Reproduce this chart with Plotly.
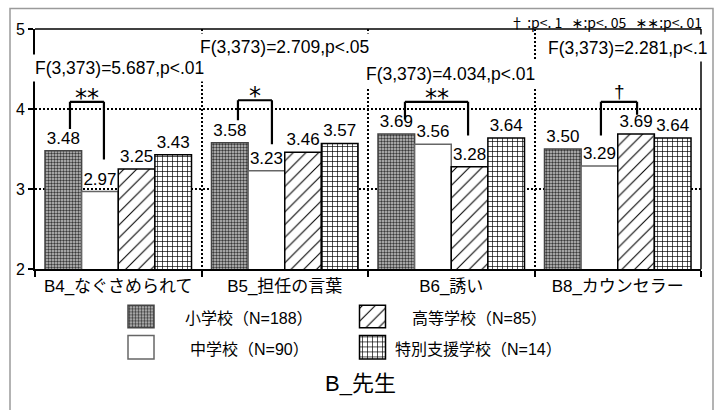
import plotly.graph_objects as go

categories = ["B4_なぐさめられて", "B5_担任の言葉", "B6_誘い", "B8_カウンセラー"]
series_names = ["小学校（N=188）", "中学校（N=90）", "高等学校（N=85）", "特別支援学校（N=14）"]
values = [
    [3.48, 3.58, 3.69, 3.50],   # 小学校
    [2.97, 3.23, 3.56, 3.29],   # 中学校
    [3.25, 3.46, 3.28, 3.69],   # 高等学校
    [3.43, 3.57, 3.64, 3.64],   # 特別支援学校
]
f_texts = ["F(3,373)=5.687,p<.01", "F(3,373)=2.709,p<.05",
           "F(3,373)=4.034,p<.01", "F(3,373)=2.281,p<.1"]
sig_marks = ["**", "*", "**", "†"]
# bracket: (x left, x right) in category units, top, left leg end, right leg end
brackets = [
    (-0.290, -0.086, 4.09, 3.75, 3.37),
    (0.719, 0.923, 4.11, 3.86, 3.56),
    (1.722, 2.101, 4.09, 3.87, 3.67),
    (2.899, 3.116, 4.09, 3.67, 3.93),
]
note_text = "† :p<. 1   ∗:p<. 05   ∗∗:p<. 01"
title_text = "B_先生"

FONT = "Liberation Sans, Arial, Noto Sans CJK JP"
JFONT = "Liberation Sans, Noto Sans CJK JP"

W, H = 719, 410
ML, MR, MT, MB = 35, 18, 29, 0
PW, PH = W - ML - MR, H - MT - MB


def pxx(px):
    return (px - ML) / PW


def pxy(py):
    return (H - MB - py) / PH


styles = [
    dict(pattern=dict(shape=".", fgcolor="#3a3a3a", bgcolor="#c8c8c8", size=3, solidity=0.5, fillmode="replace"),
         line=dict(color="#444444", width=1.5)),
    dict(pattern=dict(shape="", fgcolor="#ffffff", bgcolor="#ffffff"), color="#ffffff",
         line=dict(color="#666666", width=1.5)),
    dict(pattern=dict(shape="/", fgcolor="#000000", bgcolor="#ffffff", size=9, solidity=0.12, fillmode="replace"),
         line=dict(color="#000000", width=1.5)),
    dict(pattern=dict(shape="+", fgcolor="#000000", bgcolor="#ffffff", size=5, solidity=0.25, fillmode="replace"),
         line=dict(color="#000000", width=1.5)),
]

fig = go.Figure()
for i, name in enumerate(series_names):
    st = styles[i]
    marker = dict(pattern=st["pattern"], line=st["line"], color=st.get("color", "#ffffff"))
    fig.add_trace(go.Bar(
        x=categories, y=values[i], name=name, marker=marker,
        text=[f"{v:.2f}" for v in values[i]], textposition="outside",
        textfont=dict(family=FONT, size=17, color="#000000"),
        constraintext="none", cliponaxis=False, showlegend=False,
    ))

# legend swatches drawn on a hidden helper axis (pixel units)
leg_x = [141, 141, 372.5, 372.5]
leg_top = [312, 343, 312, 343]
leg_bot = [335, 367, 335, 367]
leg_text_x = [183, 188, 410, 393]
for i, name in enumerate(series_names):
    st = styles[i]
    marker = dict(pattern=st["pattern"], line=st["line"], color=st.get("color", "#ffffff"))
    fig.add_trace(go.Bar(
        x=[leg_x[i]], y=[leg_top[i] - leg_bot[i]], base=[leg_bot[i]],
        width=26, offset=-13, marker=marker, xaxis="x2", yaxis="y2",
        showlegend=False, hoverinfo="skip",
    ))

annotations = []
shapes = []

# F statistics
f_pos = [(31, 69), (196, 47), (362, 75), (544, 48)]
for t, (lx, cy) in zip(f_texts, f_pos):
    annotations.append(dict(text=t, xref="paper", yref="paper", x=pxx(lx), y=pxy(cy),
                            xanchor="left", yanchor="middle", showarrow=False,
                            bgcolor="#ffffff", borderpad=3,
                            font=dict(family=FONT, size=17.5, color="#000000")))

# brackets + significance marks
for (x0, x1, top, l0, l1), m in zip(brackets, sig_marks):
    for (a, b, c, d) in [(x0, l0, x0, top), (x0, top, x1, top), (x1, top, x1, l1)]:
        shapes.append(dict(type="line", xref="x", yref="y", x0=a, y0=b, x1=c, y1=d,
                           line=dict(color="#000000", width=2.2)))
    if m == "†":
        annotations.append(dict(text=m, xref="x", yref="y", x=(x0 + x1) / 2, y=top,
                                yanchor="bottom", yshift=-2, showarrow=False,
                                font=dict(family=FONT, size=19, color="#000000")))
    else:
        annotations.append(dict(text=m, xref="x", yref="y", x=(x0 + x1) / 2, y=top,
                                yanchor="bottom", yshift=-12, showarrow=False,
                                font=dict(family="DejaVu Sans", size=24, color="#000000")))

# note (top-right)
annotations.append(dict(text=note_text, xref="paper", yref="paper", x=pxx(704), y=pxy(22),
                        xanchor="right", yanchor="middle", showarrow=False,
                        font=dict(family="Noto Sans CJK JP, DejaVu Sans", size=14, color="#000000")))

# legend labels
leg_cy = [325, 357, 325, 357]
for i, name in enumerate(series_names):
    annotations.append(dict(text=name, xref="paper", yref="paper", x=pxx(leg_text_x[i]), y=pxy(leg_cy[i]),
                            xanchor="left", yanchor="middle", showarrow=False,
                            font=dict(family=JFONT, size=16, color="#000000")))

# title
annotations.append(dict(text=title_text, xref="paper", yref="paper", x=pxx(360), y=pxy(392),
                        xanchor="center", yanchor="middle", showarrow=False,
                        font=dict(family=JFONT, size=22, color="#000000")))

# frame top / right
shapes.append(dict(type="line", xref="paper", yref="paper", x0=0, x1=1, y0=1, y1=1,
                   line=dict(color="#000000", width=1.5), layer="above"))
shapes.append(dict(type="line", xref="paper", yref="paper", x0=1, x1=1, y0=pxy(275), y1=1,
                   line=dict(color="#000000", width=1.5), layer="above"))
# outer gray border
shapes.append(dict(type="rect", xref="paper", yref="paper", x0=pxx(10), x1=pxx(713),
                   y0=pxy(430), y1=pxy(8), line=dict(color="#9a9a9a", width=1.5),
                   fillcolor="rgba(0,0,0,0)", layer="below"))

ydom0 = pxy(275)
fig.update_layout(
    width=W, height=H,
    margin=dict(l=ML, r=MR, t=MT, b=MB, pad=0),
    paper_bgcolor="#ffffff", plot_bgcolor="#ffffff",
    barmode="group", bargap=0.12, bargroupgap=0,
    font=dict(family=FONT, size=16, color="#000000"),
    showlegend=False,
    xaxis=dict(domain=[0, 1], type="category", showline=True, linecolor="#000000", linewidth=2,
               ticks="outside", ticklen=6, tickwidth=2, tickcolor="#000000", tickson="boundaries",
               showgrid=True, gridcolor="#000000", gridwidth=2, griddash="2px,2px",
               tickfont=dict(family=JFONT, size=17, color="#000000"), zeroline=False,
               range=[-0.5, 3.5]),
    yaxis=dict(domain=[ydom0, 1], range=[2, 5], tickvals=[2, 3, 4, 5], showline=True,
               linecolor="#000000", linewidth=2, ticks="outside", ticklen=5, tickwidth=2,
               tickcolor="#000000", showgrid=True, gridcolor="#000000", gridwidth=2,
               griddash="2px,2px", zeroline=False,
               tickfont=dict(family=FONT, size=16, color="#000000")),
    xaxis2=dict(domain=[0, 1], range=[ML, W - MR], visible=False, anchor="y2"),
    yaxis2=dict(domain=[0, 0.3], range=[H, H - 0.3 * PH], visible=False, anchor="x2"),
    annotations=annotations,
    shapes=shapes,
)

fig.write_html("out.html", config={"displayModeBar": False},
               post_script="document.body.style.margin='0';document.body.style.overflow='hidden';")
